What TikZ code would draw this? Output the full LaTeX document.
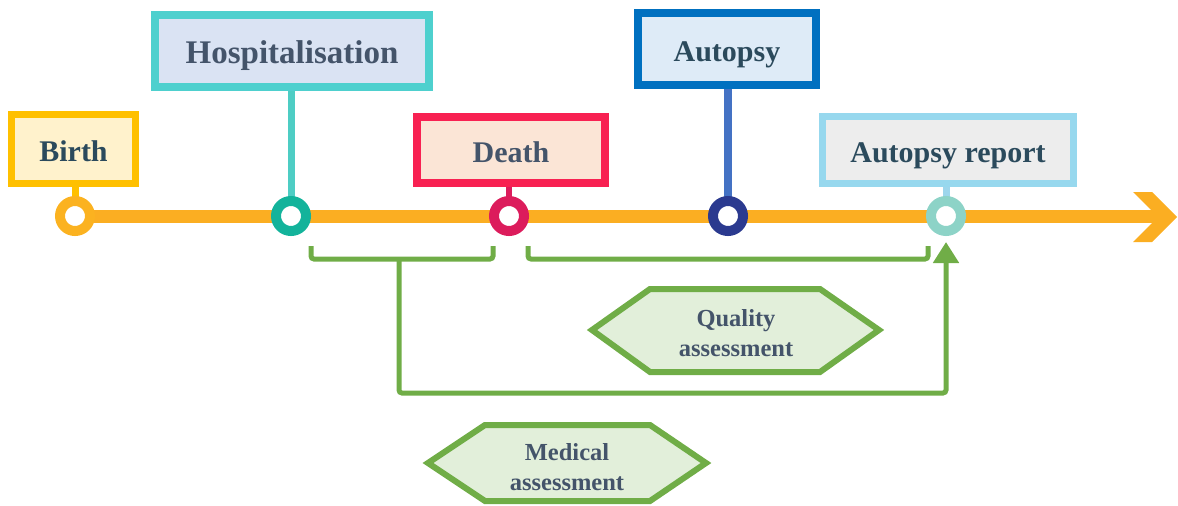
\documentclass[tikz,border=0pt]{standalone}
\usepackage{fontspec}
\setmainfont{Liberation Serif}
\usetikzlibrary{arrows.meta,backgrounds}

\definecolor{tline}{HTML}{FBAE22}
\definecolor{txtA}{HTML}{2B4A5C}
\definecolor{txtB}{HTML}{44546A}
\definecolor{grn}{HTML}{70AD47}
\definecolor{grnfill}{HTML}{E2EFDA}

\tikzset{
  label box/.style={rectangle, line width=7pt, inner sep=0pt, text height=24pt, text depth=0pt,
                    font=\fontsize{30}{34}\selectfont\bfseries},
  ring/.style={circle, line width=10pt, fill=white, minimum size=30pt, inner sep=0pt},
  stick/.style={line width=7pt},
  bracket/.style={draw=grn, line width=5pt, rounded corners=3pt},
  hexa/.style={draw=grn, fill=grnfill, line width=6pt, line join=miter},
  hexa text/.style={font=\fontsize{24.5}{30.5}\selectfont\bfseries, text=txtB, align=center}
}

\begin{document}
\begin{tikzpicture}[x=1pt,y=-1pt]
\useasboundingbox (0,0) rectangle (1178,506);

% event rings on the time axis
\node[ring, draw=tline!95!yellow] (bc) at (75,216) {};
\node[ring, draw={rgb,255:red,19;green,179;blue,155}] (hc) at (291,216) {};
\node[ring, draw={rgb,255:red,220;green,28;blue,92}] (dc) at (509,216) {};
\node[ring, draw={rgb,255:red,43;green,58;blue,143}] (ac) at (728,216) {};
\node[ring, draw={rgb,255:red,141;green,211;blue,199}] (rc) at (946,216) {};

% event labels
\node[label box, draw={rgb,255:red,255;green,192;blue,0}, fill={rgb,255:red,255;green,242;blue,204},
      minimum width=124pt, minimum height=69pt, text=txtA] (birth) at (73.5,149) {Birth};
\node[label box, line width=8pt, draw={rgb,255:red,78;green,208;blue,206}, fill={rgb,255:red,218;green,227;blue,243},
      minimum width=274pt, minimum height=72pt, text=txtB, font=\fontsize{33}{36}\selectfont\bfseries] (hosp) at (292,51) {Hospitalisation};
\node[label box, line width=8pt, draw={rgb,255:red,248;green,33;blue,82}, fill={rgb,255:red,251;green,229;blue,214},
      minimum width=188pt, minimum height=66pt, text=txtB] (death) at (511,150) {Death};
\node[label box, line width=8pt, draw={rgb,255:red,0;green,112;blue,192}, fill={rgb,255:red,222;green,235;blue,247},
      minimum width=178pt, minimum height=72pt, text=txtA] (autopsy) at (727,49) {Autopsy};
\node[label box, draw={rgb,255:red,151;green,216;blue,238}, fill={rgb,255:red,237;green,237;blue,237},
      minimum width=251pt, minimum height=67pt, text=txtA] (report) at (948,150) {Autopsy report};

% assessment tags
\node[hexa text] (quality) at (736,333) {Quality\\assessment};
\node[hexa text] (medical) at (567,467) {Medical\\assessment};

\begin{scope}[on background layer]
  % time axis with open arrow head
  \coordinate (axisend) at (1160,216);
  \draw[tline, line width=13pt] (bc.center) -- (axisend);
  \fill[tline] (1133,192) -- (1152,192) -- (1177,217) -- (1152,242) -- (1133,242) -- (1158,217) -- cycle;
  % label sticks
  \draw[stick, draw={rgb,255:red,255;green,192;blue,0}] (bc |- birth.south) -- (bc.center);
  \draw[stick, draw={rgb,255:red,78;green,205;blue,196}] (hc |- hosp.south) -- (hc.center);
  \draw[stick, line width=6pt, draw={rgb,255:red,220;green,28;blue,92}] (dc |- death.south) -- (dc.center);
  \draw[stick, line width=8pt, draw={rgb,255:red,68;green,114;blue,196}] (ac |- autopsy.south) -- (ac.center);
  \draw[stick, draw={rgb,255:red,157;green,214;blue,236}] (rc |- report.south) -- (rc.center);
  % hexagonal frames behind the tag texts
  \path[hexa] (592,330) -- (650,289) -- (820,289) -- (879,330) -- (820,372) -- (650,372) -- cycle;
  \path[hexa] (428,463) -- (485,425) -- (650,425) -- (706,463) -- (650,501) -- (485,501) -- cycle;
\end{scope}

% brackets under the axis
\coordinate (b1l) at (311,246);
\coordinate (b1r) at (493,246);
\coordinate (b1m) at (399,259);
\coordinate (b2l) at (528,246);
\coordinate (b2r) at (928,246);
\coordinate (mlow) at (399,393);
\draw[bracket] (b1l) -- (311,259) -- (493,259) -- (b1r);
\draw[bracket] (b2l) -- (528,259) -- (928,259) -- (b2r);
\draw[bracket, -{Triangle[length=21pt,width=25pt]}] (b1m) -- (mlow) -| ([yshift=-6pt]rc.south);
\end{tikzpicture}
\end{document}
